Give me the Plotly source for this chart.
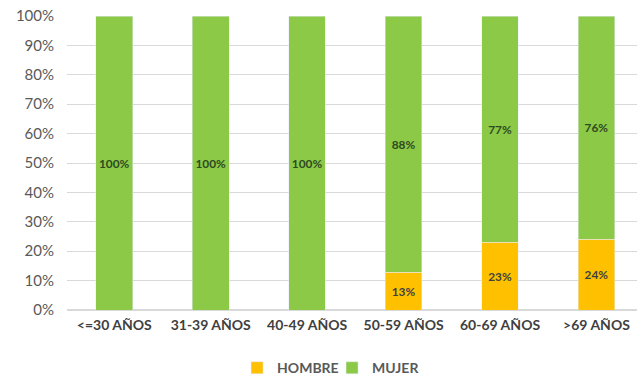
import plotly.graph_objects as go

categories = ["<=30 AÑOS", "31-39 AÑOS", "40-49 AÑOS", "50-59 AÑOS", "60-69 AÑOS", ">69 AÑOS"]
hombre = [0, 0, 0, 13, 23, 24]
mujer = [100, 100, 100, 88, 77, 76]
y_ticks = list(range(0, 101, 10))

FONT = "Lato, 'Open Sans', sans-serif"
ORANGE = "#FFC000"
GREEN = "#8BC946"


def labels(vals):
    return [f"{v}%" if v > 0 else "" for v in vals]


fig = go.Figure()
fig.add_trace(go.Bar(
    name="HOMBRE", x=categories, y=hombre, marker_color=ORANGE,
    text=labels(hombre), textposition="inside", insidetextanchor="middle",
    textfont=dict(family=FONT, size=13, color="#404040", weight="bold"),
    width=0.38, textangle=0,
))
fig.add_trace(go.Bar(
    name="MUJER", x=categories, y=mujer, marker_color=GREEN,
    text=labels(mujer), textposition="inside", insidetextanchor="middle",
    textfont=dict(family=FONT, size=13, color="#2f4a22", weight="bold"),
    width=0.38, textangle=0,
))

fig.update_layout(
    barmode="stack",
    barnorm="percent",
    width=637, height=378,
    margin=dict(l=67, r=0, t=16, b=68),
    paper_bgcolor="white", plot_bgcolor="white",
    font=dict(family=FONT, color="#595959"),
    uniformtext=dict(mode="show", minsize=8),
    showlegend=True,
    legend=dict(
        orientation="h", xref="paper", x=0.465, xanchor="center",
        yref="container", y=0.026, yanchor="middle",
        font=dict(family=FONT, size=14, color="#595959", weight="bold"),
        itemwidth=30, traceorder="normal",
        entrywidth=50, entrywidthmode="pixels",
    ),
    xaxis=dict(
        range=[-0.49, 5.42], showgrid=False, zeroline=False, showline=False,
        tickfont=dict(family=FONT, size=14, color="#404040", weight="bold"),
        ticks="", ticklabelstandoff=5,
    ),
    yaxis=dict(
        range=[0, 100], tickvals=y_ticks, ticktext=[f"{v}%" for v in y_ticks],
        showgrid=True, gridcolor="#D9D9D9", gridwidth=1,
        zeroline=True, zerolinecolor="#D9D9D9", showline=False,
        tickfont=dict(family=FONT, size=15, color="#595959"),
        ticks="", ticklabelstandoff=12,
    ),
)

fig.write_html("out.html")
